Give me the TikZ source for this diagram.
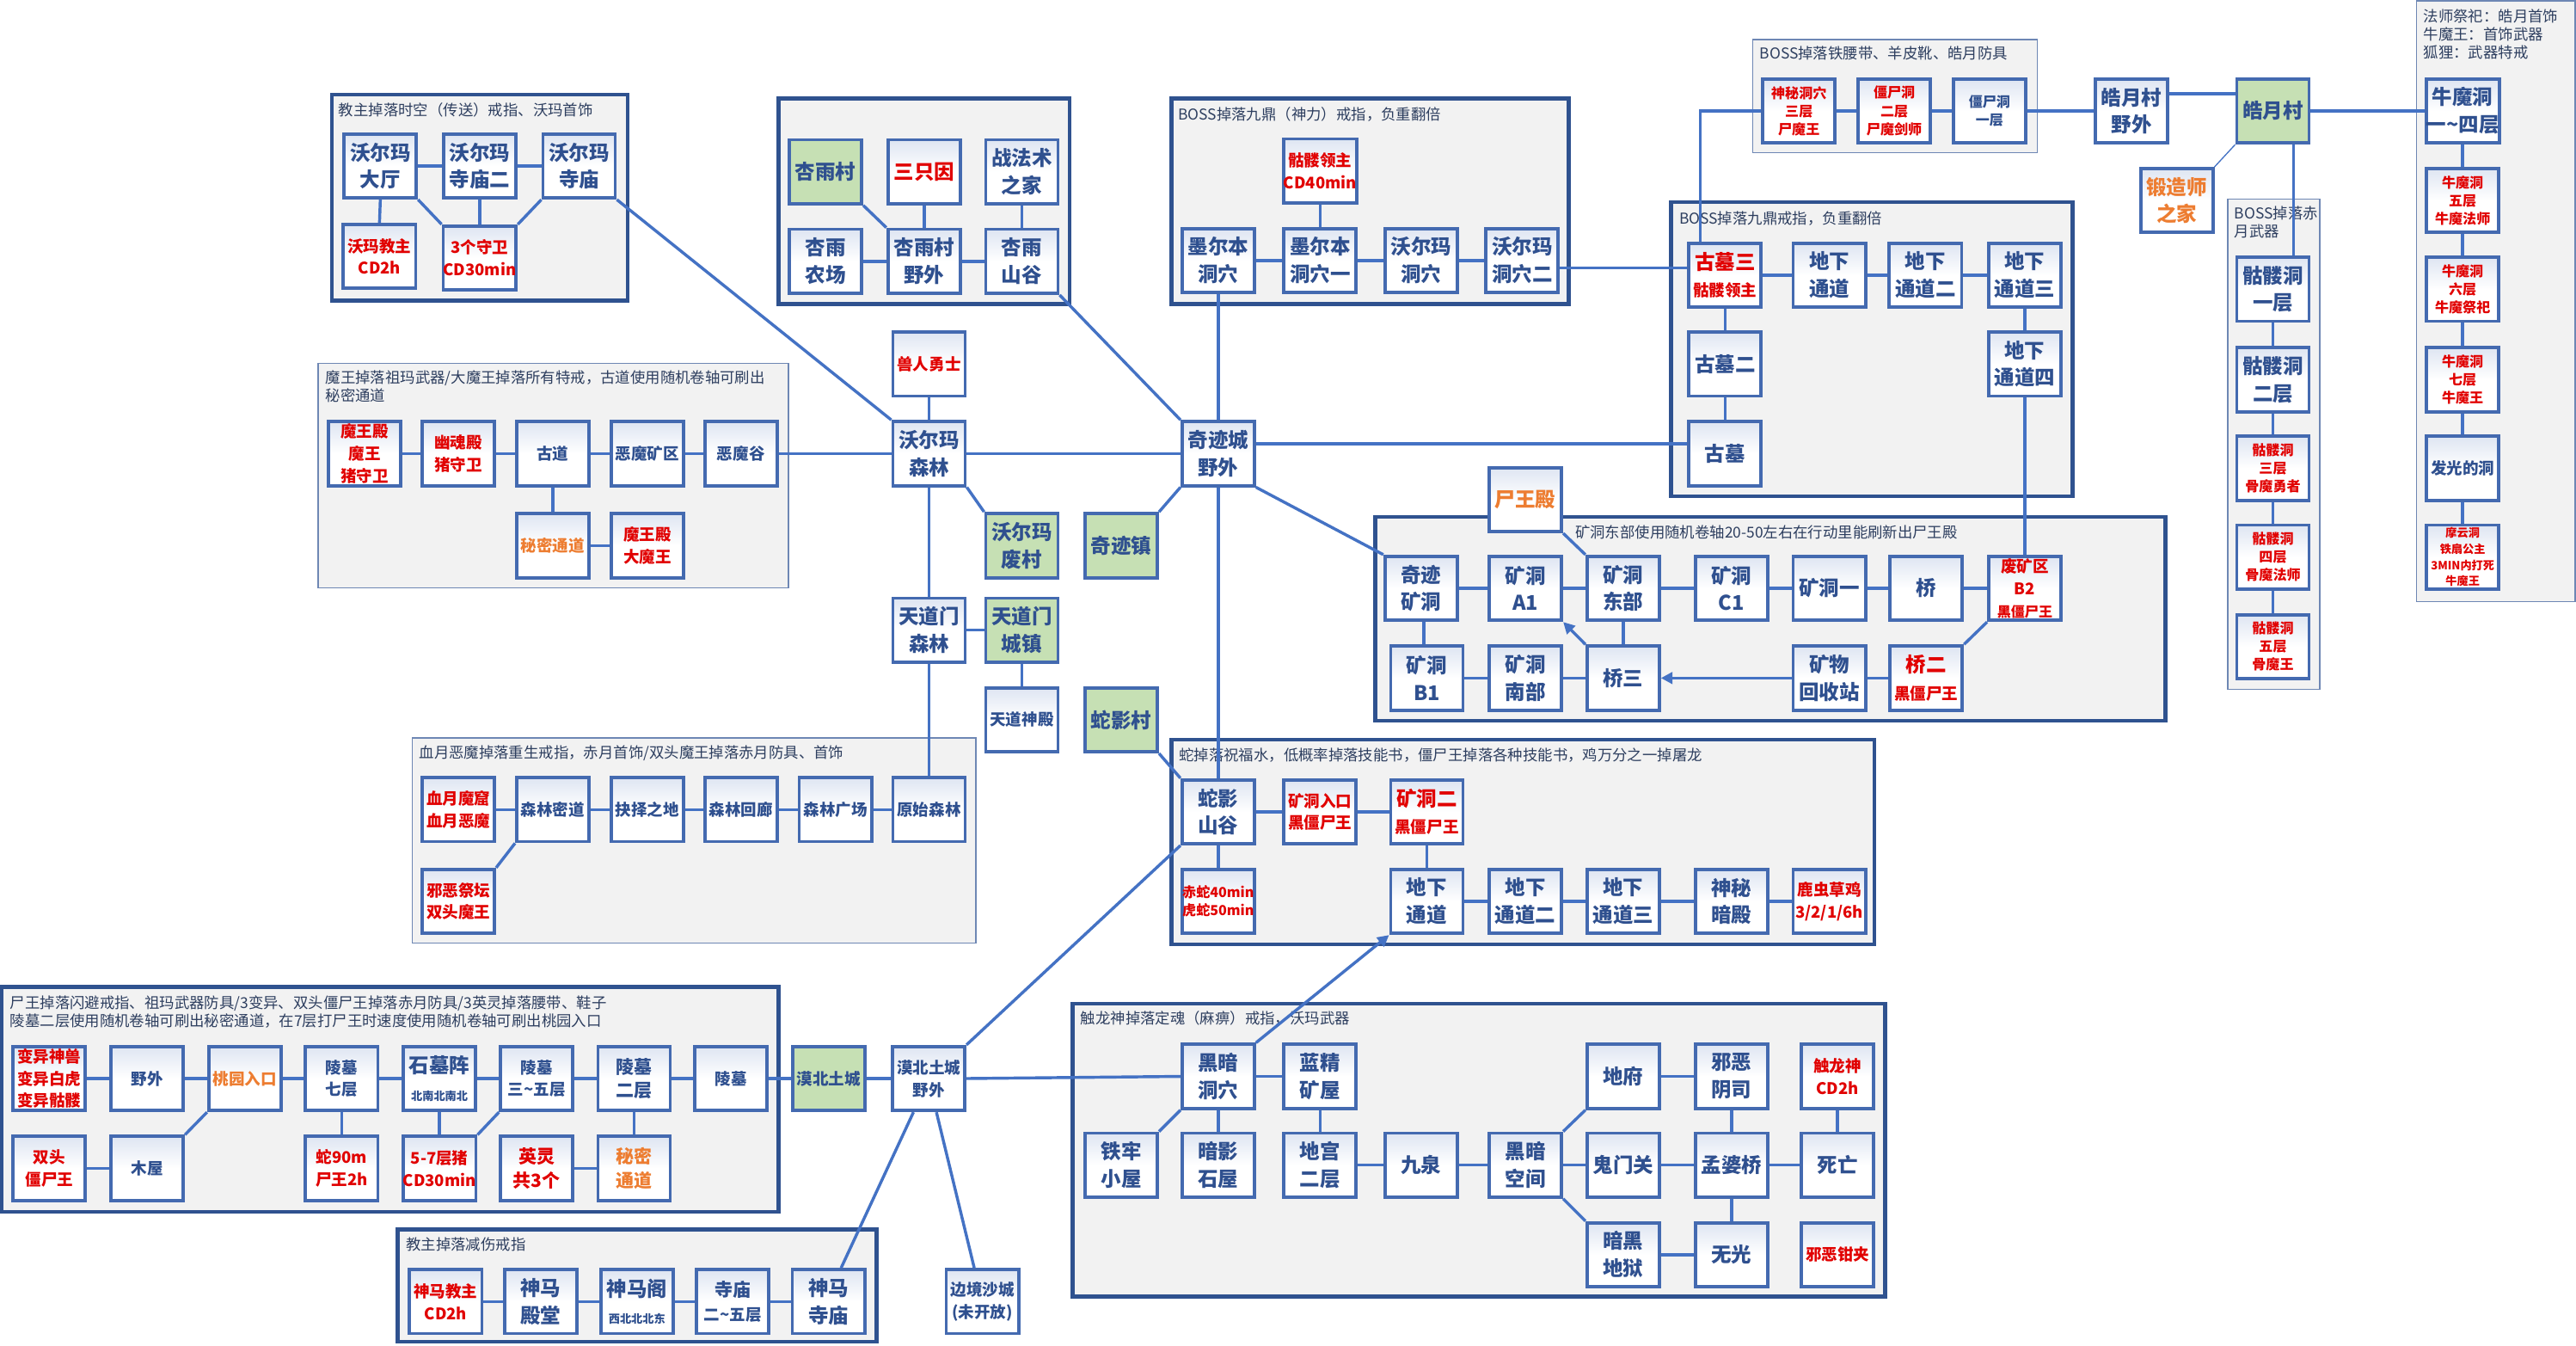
\documentclass[tikz,border=0pt]{standalone}
\usepackage{fontspec}
\setmainfont{Noto Sans CJK SC}
\usetikzlibrary{arrows.meta,calc}
\definecolor{cBx}{RGB}{68,106,176}
\definecolor{cLn}{RGB}{68,114,196}
\definecolor{cFr}{RGB}{47,82,143}
\definecolor{cFrThin}{RGB}{110,135,180}
\definecolor{cFill}{RGB}{242,242,242}
\definecolor{cTxt}{RGB}{47,80,143}
\definecolor{cTtl}{RGB}{45,62,95}
\definecolor{cRd}{RGB}{225,0,0}
\definecolor{cOg}{RGB}{237,125,49}
\definecolor{cGr}{RGB}{198,224,180}
\definecolor{cTop}{RGB}{222,229,242}
\newcommand\FBig{\fontsize{12.3}{16.6}\selectfont\bfseries}
\newcommand\FMid{\fontsize{9.7}{13.5}\selectfont\bfseries}
\newcommand\FEl{\fontsize{11}{14.5}\selectfont\bfseries}
\newcommand\FSm{\fontsize{8.4}{11}\selectfont\bfseries}
\newcommand\FTiny{\fontsize{6.9}{9.7}\selectfont\bfseries}
\newcommand\FTtl{\fontsize{9.1}{11}\selectfont}
\pgfdeclarelayer{bg}
\pgfdeclarelayer{mid}
\pgfsetlayers{bg,mid,main}
\tikzset{
 bxbase/.style={rectangle, draw=cBx, line width=2pt, minimum width=44pt, minimum height=39pt, inner sep=0pt, align=center, text=cTxt, font=\FBig},
 bx/.style={bxbase, top color=cTop, bottom color=white, middle color=white},
 gbx/.style={bxbase, fill=cGr},
 rt/.style={text=cRd},
 ot/.style={text=cOg},
 fm/.style={font=\FMid},
 fel/.style={font=\FEl},
 fs/.style={font=\FSm},
 ft/.style={font=\FTiny},
 cn/.style={draw=cLn, line width=1.8pt},
 cnthin/.style={draw=cLn, line width=0.7pt},
 arr/.style={cn, -{Triangle[length=7pt,width=7pt]}},
 grpthick/.style={draw=cFr, line width=2.4pt, fill=cFill},
 grpthin/.style={draw=cFrThin, line width=0.7pt, fill=cFill},
 ttlst/.style={anchor=north west, inner sep=0pt, align=left, text=cTtl, font=\FTtl},
}
\begin{document}
\begin{tikzpicture}[x=1pt,y=-1pt]
\useasboundingbox (0,0) rectangle (1568,819);
% ---------- group 1
\node[bx] (wdt) at (231.5,101) {沃尔玛\\大厅};
\node[bx] (wms2) at (292,101) {沃尔玛\\寺庙二};
\node[bx] (wms) at (352.5,101) {沃尔玛\\寺庙};
\node[bx,rt,fm] (wmjz) at (231,156) {沃玛教主\\CD2h};
\node[bx,rt,fm] (sgsw) at (292,157) {3个守卫\\CD30min};
% ---------- group 2
\node[gbx] (xyc) at (502.5,104.5) {杏雨村};
\node[bx,rt] (szy) at (562.5,104.5) {三只因};
\node[bx] (zfs) at (622,104.5) {战法术\\之家};
\node[bx] (xync) at (502.5,159) {杏雨\\农场};
\node[bx] (xyyw) at (562.5,159) {杏雨村\\野外};
\node[bx] (xysg) at (622,159) {杏雨\\山谷};
% ---------- group 3
\node[bx,rt,fm] (kllz) at (803.5,104) {骷髅领主\\CD40min};
\node[bx] (mebd) at (741.5,158.5) {墨尔本\\洞穴};
\node[bx] (meb1) at (803.5,158.5) {墨尔本\\洞穴一};
\node[bx] (wmd) at (865,158.5) {沃尔玛\\洞穴};
\node[bx] (wmd2) at (926.5,158.5) {沃尔玛\\洞穴二};
% ---------- group 4
\node[bx,rt,fs] (smdx) at (1095,67.5) {神秘洞穴\\三层\\尸魔王};
\node[bx,rt,fs] (jsd2) at (1153,67.5) {僵尸洞\\二层\\尸魔剑师};
\node[bx,fs] (jsd1) at (1211,67.5) {僵尸洞\\一层};
\node[bx] (hycyw) at (1297.5,67.5) {皓月村\\野外};
\node[gbx] (hyc) at (1383.5,67.5) {皓月村};
\node[bx,ot] (dzs) at (1325,122) {锻造师\\之家};
% ---------- chiyue
\node[bx] (kld1) at (1383.5,176) {骷髅洞\\一层};
\node[bx] (kld2) at (1383.5,231) {骷髅洞\\二层};
\node[bx,rt,fs] (kld3) at (1383.5,285) {骷髅洞\\三层\\骨魔勇者};
\node[bx,rt,fs] (kld4) at (1383.5,339) {骷髅洞\\四层\\骨魔法师};
\node[bx,rt,fs] (kld5) at (1383.5,393.5) {骷髅洞\\五层\\骨魔王};
% ---------- niumo
\node[bx] (nmd14) at (1499,67.5) {牛魔洞\\一\textasciitilde 四层};
\node[bx,rt,fs] (nmd5) at (1499,122) {牛魔洞\\五层\\牛魔法师};
\node[bx,rt,fs] (nmd6) at (1499,176) {牛魔洞\\六层\\牛魔祭祀};
\node[bx,rt,fs] (nmd7) at (1499,231) {牛魔洞\\七层\\牛魔王};
\node[bx,fm] (fgd) at (1499,285) {发光的洞};
\node[bx,rt,ft] (myd) at (1499,339) {摩云洞\\铁扇公主\\3MIN内打死\\牛魔王};
% ---------- gumu
\node[bx,rt] (gm3) at (1050,167.5) {古墓三\\{\FMid 骷髅领主}};
\node[bx] (dxtd) at (1113.5,167.5) {地下\\通道};
\node[bx] (dxtd2) at (1172,167.5) {地下\\通道二};
\node[bx] (dxtd3) at (1232.5,167.5) {地下\\通道三};
\node[bx] (dxtd4) at (1232.5,221.5) {地下\\通道四};
\node[bx] (gm2) at (1050,221.5) {古墓二};
\node[bx] (gm) at (1050,276) {古墓};
% ---------- kuangdong
\node[bx,ot] (swd) at (928.5,304) {尸王殿};
\node[bx] (qjkd) at (865,358) {奇迹\\矿洞};
\node[bx] (kda1) at (928.5,358) {矿洞\\A1};
\node[bx] (kddb) at (988,358) {矿洞\\东部};
\node[bx] (kdc1) at (1054,358) {矿洞\\C1};
\node[bx] (kd1) at (1113.5,358) {矿洞一};
\node[bx] (qiao) at (1172.5,358) {桥};
\node[bx,rt,fm] (fkq) at (1232.5,358) {废矿区\\B2\\{\FSm 黑僵尸王}};
\node[bx] (kdb1) at (868.5,412.6) {矿洞\\B1};
\node[bx] (kdnb) at (928.5,412.6) {矿洞\\南部};
\node[bx] (q3) at (988,412.6) {桥三};
\node[bx] (kwhsz) at (1113.5,412.6) {矿物\\回收站};
\node[bx,rt] (q2) at (1172.5,412.6) {桥二\\{\FMid 黑僵尸王}};
% ---------- mowang
\node[bx,rt,fm] (mwd) at (222,276) {魔王殿\\魔王\\猪守卫};
\node[bx,rt,fm] (yhd) at (279,276) {幽魂殿\\猪守卫};
\node[bx,fm] (gd) at (336.5,276) {古道};
\node[bx,fm] (emkq) at (394,276) {恶魔矿区};
\node[bx,fm] (emg) at (451,276) {恶魔谷};
\node[bx,ot,fm] (mmtd) at (336.5,332) {秘密通道};
\node[bx,rt,fm] (dmw) at (394,332) {魔王殿\\大魔王};
% ---------- central
\node[bx,rt,fm] (srys) at (565.5,221.5) {兽人勇士};
\node[bx] (wmsl) at (565.5,276) {沃尔玛\\森林};
\node[bx] (qjcyw) at (741.5,276) {奇迹城\\野外};
\node[gbx] (wmfc) at (622,332) {沃尔玛\\废村};
\node[gbx] (qjz) at (682.5,332) {奇迹镇};
\node[bx] (tdmsl) at (565.5,383.5) {天道门\\森林};
\node[gbx] (tdmcz) at (622,383.5) {天道门\\城镇};
\node[bx,fm] (tdsd) at (622,438) {天道神殿};
\node[gbx] (syc) at (682.5,438) {蛇影村};
% ---------- xueyue
\node[bx,rt,fm] (xymk) at (279,492.6) {血月魔窟\\血月恶魔};
\node[bx,fm] (slmd) at (336.5,492.6) {森林密道};
\node[bx,fm] (jzzd) at (394,492.6) {抉择之地};
\node[bx,fm] (slhl) at (451,492.6) {森林回廊};
\node[bx,fm] (slgc) at (508.5,492.6) {森林广场};
\node[bx,fm] (yssl) at (565.5,492.6) {原始森林};
\node[bx,rt,fm] (xeajt) at (279,548.5) {邪恶祭坛\\双头魔王};
% ---------- she
\node[bx] (sysg) at (741.5,494) {蛇影\\山谷};
\node[bx,rt,fm] (kdrk) at (803.5,494) {矿洞入口\\黑僵尸王};
\node[bx,rt] (kd2) at (868.5,494) {矿洞二\\{\FMid 黑僵尸王}};
\node[bx,rt,fs] (chishe) at (741.5,548.5) {赤蛇40min\\虎蛇50min};
\node[bx] (sdx1) at (868.5,548.5) {地下\\通道};
\node[bx] (sdx2) at (928.5,548.5) {地下\\通道二};
\node[bx] (sdx3) at (988,548.5) {地下\\通道三};
\node[bx] (smad) at (1054,548.5) {神秘\\暗殿};
\node[bx,rt,fm] (lccj) at (1113.5,548.5) {鹿虫草鸡\\3/2/1/6h};
% ---------- shiwang
\node[bx,rt,fm] (byss) at (30,656.3) {变异神兽\\变异白虎\\变异骷髅};
\node[bx,fm] (yw) at (89.6,656.3) {野外};
\node[bx,ot,fm] (tyrk) at (149,656.3) {桃园入口};
\node[bx,fm] (lm7) at (208,656.3) {陵墓\\七层};
\node[bx] (smz) at (267.5,656.3) {石墓阵\\{\FTiny 北南北南北}};
\node[bx,fm] (lm35) at (326.7,656.3) {陵墓\\三\textasciitilde 五层};
\node[bx,fel] (lm2) at (386,656.3) {陵墓\\二层};
\node[bx,fm] (lm) at (445,656.3) {陵墓};
\node[gbx,fm] (mbtc) at (504.5,656.3) {漠北土城};
\node[bx,rt,fm] (sts) at (30,711) {双头\\僵尸王};
\node[bx,fm] (mw) at (89.6,711) {木屋};
\node[bx,rt,fm] (s90) at (208,711) {蛇90m\\尸王2h};
\node[bx,rt,fm] (z57) at (267.5,711) {5-7层猪\\CD30min};
\node[bx,rt,fel] (yl) at (326.7,711) {英灵\\共3个};
\node[bx,ot,fel] (mmtd2) at (386,711) {秘密\\通道};
\node[bx,fm] (mbyw) at (565.3,656.3) {漠北土城\\野外};
\node[bx,fm] (bjsc) at (598,792) {边境沙城\\(未开放)};
% ---------- jiaozhu jianshang
\node[bx,rt,fm] (smjz) at (271.3,792) {神马教主\\CD2h};
\node[bx] (smdt) at (329,792) {神马\\殿堂};
\node[bx] (smg) at (387.7,792) {神马阁\\{\FTiny 西北北北东}};
\node[bx,fel] (smsm2) at (446,792) {寺庙\\{\FMid 二\textasciitilde 五层}};
\node[bx] (smsm) at (504.3,792) {神马\\寺庙};
% ---------- chulong
\node[bx] (hadx) at (741.5,655) {黑暗\\洞穴};
\node[bx] (ljkw) at (803.5,655) {蓝精\\矿屋};
\node[bx] (df) at (988,655) {地府};
\node[bx] (xeys) at (1054,655) {邪恶\\阴司};
\node[bx,rt,fm] (cls) at (1118.5,655) {触龙神\\CD2h};
\node[bx] (tlxw) at (682.5,709) {铁牢\\小屋};
\node[bx] (aysw) at (741.5,709) {暗影\\石屋};
\node[bx] (dg2) at (803.5,709) {地宫\\二层};
\node[bx] (jq) at (865,709) {九泉};
\node[bx] (hakj) at (928.5,709) {黑暗\\空间};
\node[bx] (gmg) at (988,709) {鬼门关};
\node[bx] (mpq) at (1054,709) {孟婆桥};
\node[bx] (sw) at (1118.5,709) {死亡};
\node[bx] (ahdy) at (988,763.5) {暗黑\\地狱};
\node[bx] (wg) at (1054,763.5) {无光};
\node[bx,rt,fm] (xeqj) at (1118.5,763.5) {邪恶钳夹};

% ================= frames and titles
\begin{pgfonlayer}{bg}
\fill[white] (0,0) rectangle (1568,819);
\draw[grpthick] (202,57.6) rectangle (382,183);
\draw[grpthick] (474,60) rectangle (651,185);
\draw[grpthick] (713,60) rectangle (955,185);
\draw[grpthin] (1067,24) rectangle (1240,93);
\draw[grpthin] (1356,121) rectangle (1412,419.6);
\draw[grpthin] (1471,0.5) rectangle (1567.5,366);
\draw[grpthick] (1017,123) rectangle (1261.6,302);
\draw[grpthick] (837,314.6) rectangle (1318,438.6);
\draw[grpthin] (193.6,221) rectangle (480,357.6);
\draw[grpthin] (251,449) rectangle (594,574);
\draw[grpthick] (713,450) rectangle (1141,574.6);
\draw[grpthick] (1,600.7) rectangle (474,737.5);
\draw[grpthick] (242,748) rectangle (533.5,816.5);
\draw[grpthick] (653,610.7) rectangle (1147.6,789);
\node[ttlst] (t1) at (206,62.2) {教主掉落时空（传送）戒指、沃玛首饰};
\node[ttlst] (t2) at (717,65.2) {BOSS掉落九鼎（神力）戒指，负重翻倍};
\node[ttlst] (t3) at (1071,28.2) {BOSS掉落铁腰带、羊皮靴、皓月防具};
\node[ttlst] (t4) at (1475,5.7) {法师祭祀：皓月首饰\\牛魔王：首饰武器\\狐狸：武器特戒};
\node[ttlst] (t5) at (1022,128.2) {BOSS掉落九鼎戒指，负重翻倍};
\node[ttlst] (t6) at (1360,125.2) {BOSS掉落赤\\月武器};
\node[ttlst] (t7) at (198,225.2) {魔王掉落祖玛武器/大魔王掉落所有特戒，古道使用随机卷轴可刷出\\秘密通道};
\node[ttlst] (t8) at (958.7,319.7) {矿洞东部使用随机卷轴20-50左右在行动里能刷新出尸王殿};
\node[ttlst] (t9) at (255,453.6) {血月恶魔掉落重生戒指，赤月首饰/双头魔王掉落赤月防具、首饰};
\node[ttlst] (t10) at (717.5,455.2) {蛇掉落祝福水，低概率掉落技能书，僵尸王掉落各种技能书，鸡万分之一掉屠龙};
\node[ttlst] (t11) at (6,605.8) {尸王掉落闪避戒指、祖玛武器防具/3变异、双头僵尸王掉落赤月防具/3英灵掉落腰带、鞋子\\陵墓二层使用随机卷轴可刷出秘密通道，在7层打尸王时速度使用随机卷轴可刷出桃园入口};
\node[ttlst] (t12) at (247,753) {教主掉落减伤戒指};
\node[ttlst] (t13) at (657.6,615.2) {触龙神掉落定魂（麻痹）戒指，沃玛武器};
\end{pgfonlayer}

% ================= connectors
\begin{pgfonlayer}{mid}
% group 1
\draw[cn] (wdt.east) -- (wms2.west);
\draw[cn] (wms2.east) -- (wms.west);
\draw[cn] (wdt.south) -- (wmjz.north);
\draw[cn] (wdt.south east) -- (sgsw.north west);
\draw[cn] (wms2.south) -- (sgsw.north);
\draw[cn] (wms.south west) -- (sgsw.north east);
\draw[cn] (wms.south east) -- (wmsl.north west);
% group 2
\draw[cn] (xync.east) -- (xyyw.west);
\draw[cn] (xyyw.east) -- (xysg.west);
\draw[cn] (szy.south) -- (xyyw.north);
\draw[cn] (zfs.south) -- (xysg.north);
\draw[cn] (xyc.south east) -- (xyyw.north west);
\draw[cn] (xysg.south east) -- (qjcyw.north west);
% group 3
\draw[cn] (mebd.east) -- (meb1.west);
\draw[cn] (meb1.east) -- (wmd.west);
\draw[cn] (wmd.east) -- (wmd2.west);
\draw[cn] (kllz.south) -- (meb1.north);
\draw[cn] (mebd.south) -- (qjcyw.north);
\draw[cn] ($(wmd2.east)+(0,4.5)$) -- ($(gm3.west)+(0,-4.5)$);
% group 4
\draw[cn] (smdx.east) -- (jsd2.west);
\draw[cn] (jsd2.east) -- (jsd1.west);
\draw[cn] (smdx.west) -| ($(gm3.north)+(-15,0)$);
\draw[cn] (jsd1.east) -- (hycyw.west);
\draw[cn] ($(hycyw.east)+(0,-10.5)$) -- ($(hyc.west)+(0,-10.5)$);
\draw[cn] (hyc.east) -- (nmd14.west);
\draw[cnthin] (dzs.north east) -- (hyc.south west);
\draw[cn] ($(hyc.south)+(12.5,0)$) -- ($(kld1.north)+(12.5,0)$);
% chiyue
\draw[cn] (kld1.south) -- (kld2.north);
\draw[cn] (kld2.south) -- (kld3.north);
\draw[cn] (kld3.south) -- (kld4.north);
\draw[cn] (kld4.south) -- (kld5.north);
% niumo
\draw[cn] (nmd14.south) -- (nmd5.north);
\draw[cn] (nmd5.south) -- (nmd6.north);
\draw[cn] (nmd6.south) -- (nmd7.north);
\draw[cn] (nmd7.south) -- (fgd.north);
\draw[cn] (fgd.south) -- (myd.north);
% gumu
\draw[cn] (gm3.east) -- (dxtd.west);
\draw[cn] (dxtd.east) -- (dxtd2.west);
\draw[cn] (dxtd2.east) -- (dxtd3.west);
\draw[cn] (dxtd3.south) -- (dxtd4.north);
\draw[cn] (gm3.south) -- (gm2.north);
\draw[cn] (gm2.south) -- (gm.north);
\draw[cn] (dxtd4.south) -- (fkq.north);
% kuangdong
\draw[cn] (qjkd.east) -- (kda1.west);
\draw[cn] (kda1.east) -- (kddb.west);
\draw[cn] (kddb.east) -- (kdc1.west);
\draw[cn] (kdc1.east) -- (kd1.west);
\draw[cn] (kd1.east) -- (qiao.west);
\draw[cn] (qiao.east) -- (fkq.west);
\draw[cn] (swd.south east) -- (kddb.north west);
\draw[cn] ($(qjkd.south)+(1.6,0)$) -- ($(kdb1.north)+(-1.9,0)$);
\draw[cn] (kdb1.east) -- (kdnb.west);
\draw[cn] (kdnb.east) -- (q3.west);
\draw[cn] (kddb.south) -- (q3.north);
\draw[arr] (q3.north west) -- (kda1.south east);
\draw[arr] (kwhsz.west) -- (q3.east);
\draw[cn] (kwhsz.east) -- (q2.west);
\draw[cn] (q2.north east) -- (fkq.south west);
% mowang
\draw[cn] (mwd.east) -- (yhd.west);
\draw[cn] (yhd.east) -- (gd.west);
\draw[cn] (gd.east) -- (emkq.west);
\draw[cn] (emkq.east) -- (emg.west);
\draw[cn] (gd.south) -- (mmtd.north);
\draw[cn] (mmtd.east) -- (dmw.west);
\draw[cn] (emg.east) -- (wmsl.west);
% central
\draw[cn] (wmsl.north) -- (srys.south);
\draw[cn] (wmsl.east) -- (qjcyw.west);
\draw[cn] (wmsl.south east) -- (wmfc.north west);
\draw[cn] (wmsl.south) -- (tdmsl.north);
\draw[cn] (tdmsl.east) -- (tdmcz.west);
\draw[cn] (tdmcz.south) -- (tdsd.north);
\draw[cn] (tdmsl.south) -- (yssl.north);
\draw[cn] (qjcyw.south west) -- (qjz.north east);
\draw[cn] (qjcyw.south) -- (sysg.north);
\draw[cn] ($(qjcyw.east)+(0,-6)$) -- ($(gm.west)+(0,-6)$);
\draw[cn] (qjcyw.south east) -- (qjkd.north west);
\draw[cn] (syc.south east) -- (sysg.north west);
% xueyue
\draw[cn] (xymk.east) -- (slmd.west);
\draw[cn] (slmd.east) -- (jzzd.west);
\draw[cn] (jzzd.east) -- (slhl.west);
\draw[cn] (slhl.east) -- (slgc.west);
\draw[cn] (slgc.east) -- (yssl.west);
\draw[cn] (slmd.south west) -- (xeajt.north east);
% she
\draw[cn] (sysg.east) -- (kdrk.west);
\draw[cn] (kdrk.east) -- (kd2.west);
\draw[cn] (sysg.south) -- (chishe.north);
\draw[cn] (kd2.south) -- (sdx1.north);
\draw[cn] (sdx1.east) -- (sdx2.west);
\draw[cn] (sdx2.east) -- (sdx3.west);
\draw[cn] (sdx3.east) -- (smad.west);
\draw[cn] (smad.east) -- (lccj.west);
\draw[cn] (sysg.south west) -- (mbyw.north east);
\draw[arr] (hadx.north east) -- (sdx1.south west);
% shiwang
\draw[cn] (byss.east) -- (yw.west);
\draw[cn] (yw.east) -- (tyrk.west);
\draw[cn] (tyrk.east) -- (lm7.west);
\draw[cn] (lm7.east) -- (smz.west);
\draw[cn] (smz.east) -- (lm35.west);
\draw[cn] (lm35.east) -- (lm2.west);
\draw[cn] (lm2.east) -- (lm.west);
\draw[cn] (lm.east) -- (mbtc.west);
\draw[cn] (mbtc.east) -- (mbyw.west);
\draw[cn] (tyrk.south west) -- (mw.north east);
\draw[cn] (sts.east) -- (mw.west);
\draw[cn] (lm7.south) -- (s90.north);
\draw[cn] (smz.south) -- (z57.north);
\draw[cn] (lm35.south west) -- (z57.north east);
\draw[cn] (yl.east) -- (mmtd2.west);
\draw[cn] (lm2.south) -- (mmtd2.north);
\draw[cn] (mbyw.east) -- (hadx.west);
\draw[cn] ($(mbyw.south)+(-9.3,0)$) -- ($(smsm.north)+(7.7,0)$);
\draw[cn] ($(mbyw.south)+(4.7,0)$) -- ($(bjsc.north)+(-5,0)$);
% jiaozhu jianshang
\draw[cn] (smjz.east) -- (smdt.west);
\draw[cn] (smdt.east) -- (smg.west);
\draw[cn] (smg.east) -- (smsm2.west);
\draw[cn] (smsm2.east) -- (smsm.west);
% chulong
\draw[cn] (hadx.east) -- (ljkw.west);
\draw[cn] (hadx.south west) -- (tlxw.north east);
\draw[cn] (hadx.south) -- (aysw.north);
\draw[cn] (ljkw.south) -- (dg2.north);
\draw[cn] (dg2.east) -- (jq.west);
\draw[cn] (jq.east) -- (hakj.west);
\draw[cn] (hakj.east) -- (gmg.west);
\draw[cn] (gmg.east) -- (mpq.west);
\draw[cn] (mpq.east) -- (sw.west);
\draw[cn] (hakj.north east) -- (df.south west);
\draw[cn] (hakj.south east) -- (ahdy.north west);
\draw[cn] (df.east) -- (xeys.west);
\draw[cn] (ahdy.east) -- (wg.west);
\draw[cn] (xeys.south) -- (mpq.north);
\draw[cn] (mpq.south) -- (wg.north);
\draw[cn] (cls.south) -- (sw.north);
\end{pgfonlayer}
\end{tikzpicture}
\end{document}
